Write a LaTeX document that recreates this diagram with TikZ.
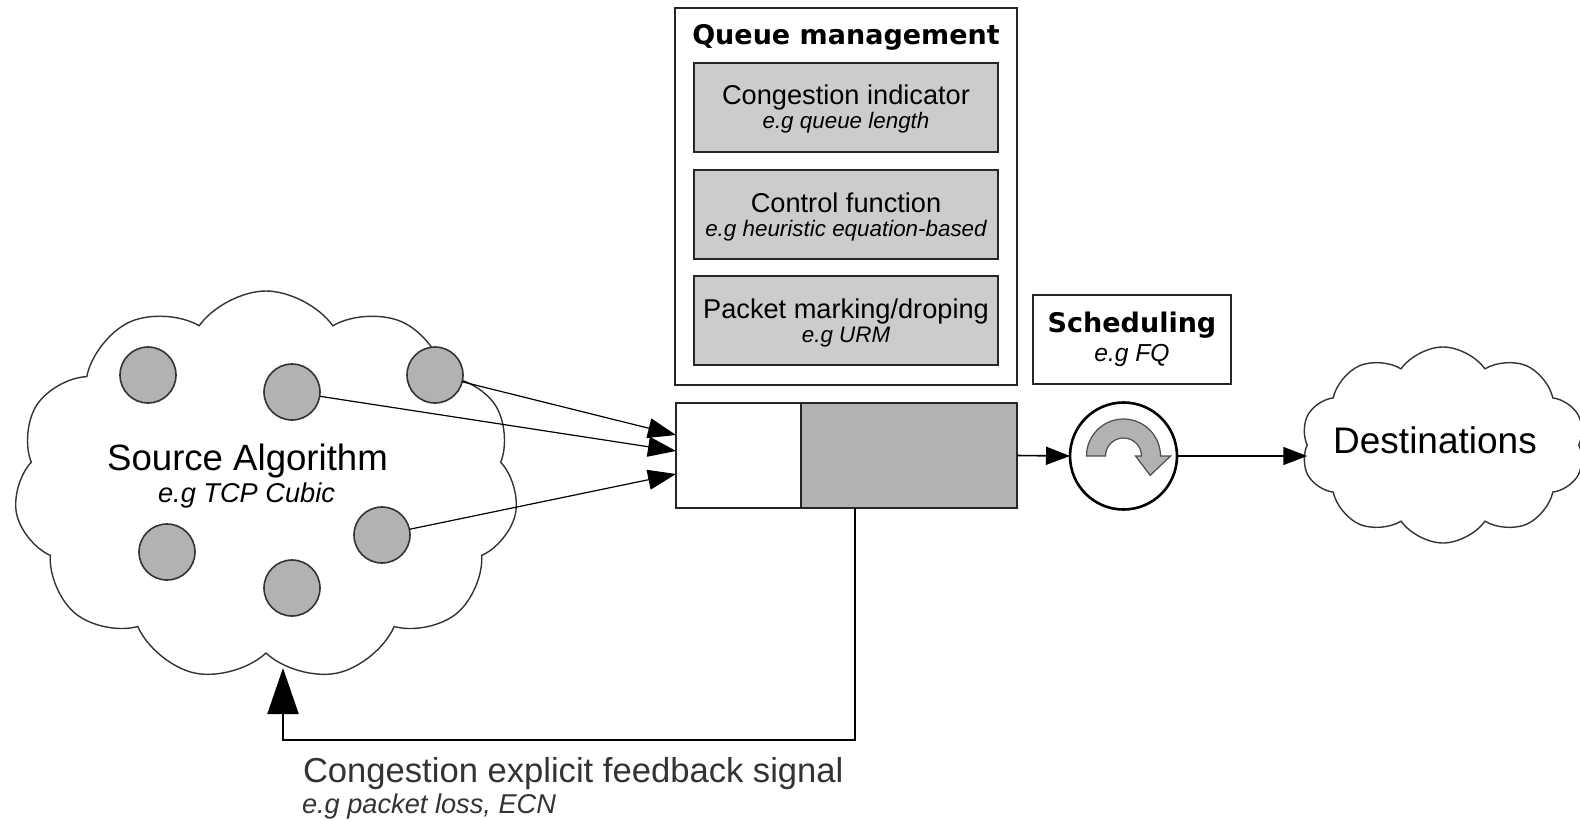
\documentclass[tikz,border=0pt]{standalone}
\usepackage{fontspec}
\setmainfont{Liberation Sans}
\newfontfamily\titlefont{DejaVu Sans}
\usetikzlibrary{shapes.symbols,arrows.meta,calc}

% two-line text of the boxes in the queue management frame
\newcommand{\parttext}[2]{{\fontsize{13.6}{12.8}\selectfont #1}\\{\fontsize{11.2}{12.8}\selectfont\itshape #2}}

\begin{document}
\begin{tikzpicture}[x=0.5pt,y=-0.5pt]
    \tikzstyle{every node}+=[inner sep=0pt, outer sep=0pt]
    \tikzstyle{puff}=[cloud, cloud puffs=11, cloud puff arc=110, cloud ignores aspect, draw=black!80, line width=0.7pt]
    \tikzstyle{host}=[circle, draw=black!80, line width=0.8pt, fill=gray!60, minimum size=28pt]
    \tikzstyle{part}=[rectangle, draw=black!85, line width=1pt, fill=gray!40, minimum width=152pt, minimum height=44.5pt, align=center, text depth=0pt]
    \tikzstyle{frame}=[rectangle, draw=black!85, line width=1.4pt]
    \tikzstyle{flow}=[draw=black, line width=0.8pt, -{Triangle[length=12pt,width=9pt]}]
    \useasboundingbox (0,0) rectangle (1580,820);

    % sources
    \node [puff, minimum width=252pt, minimum height=195pt] (src) at (266,486) {};
    \node [host] (h1) at (148,375) {};
    \node [host] (h2) at (292,392) {};
    \node [host] (h3) at (435,375) {};
    \node [host] (h4) at (167,552) {};
    \node [host] (h5) at (382,535) {};
    \node [host] (h6) at (292,588) {};
    \node [anchor=base, font=\fontsize{18.3}{20}\selectfont] (srcname) at (247.5,470) {Source Algorithm};
    \node [anchor=base, font=\fontsize{13.6}{15}\selectfont\itshape] (srcnote) at (246.5,502) {e.g TCP Cubic};

    % queue management
    \node [frame, minimum width=171pt, minimum height=188.5pt] (qm) at (846,196.5) {};
    \node [font=\fontsize{13.5}{15}\titlefont\bfseries] (qmtitle) at (846,37) {Queue management};
    \node [part] (indicator) at (846,107) {\parttext{Congestion indicator}{e.g queue length}};
    \node [part] (control) at (846,214.5) {\parttext{Control function}{e.g heuristic equation-based}};
    \node [part] (marking) at (846,320.5) {\parttext{Packet marking/droping}{e.g URM}};

    % the queue itself
    \node [frame, fill=white, minimum width=62.5pt, minimum height=52.5pt] (qfree) at (738.5,455.5) {};
    \node [frame, fill=gray!60, minimum width=108pt, minimum height=52.5pt, anchor=west] (qused) at (qfree.east) {};

    % scheduler
    \node [frame, minimum width=99pt, minimum height=44.5pt, align=center] (schedbox) at (1132,339.5)
        {{\fontsize{13.5}{14}\titlefont\bfseries Scheduling}\\[2.5pt]{\fontsize{12.3}{14}\selectfont\itshape e.g FQ}};
    \node [circle, draw=black, line width=1.3pt, minimum size=53.5pt] (sched) at (1123.5,456) {};
    \filldraw [fill=gray!60, draw=black!70, line width=0.6pt]
        ($(sched)+(180:37)$) arc [start angle=180, end angle=360, radius=37]
        -- ($(sched)+(0:47)$) -- ($(sched)+(36:33)$) -- ($(sched)+(0:12)$)
        -- ($(sched)+(0:18)$) arc [start angle=360, end angle=180, radius=18] -- cycle;

    % destinations
    \node [puff, cloud puffs=10, minimum width=142pt, minimum height=98pt] (dest) at (1443,445) {};
    \node [anchor=base, font=\fontsize{18.5}{20}\selectfont] (destname) at (1435,453) {Destinations};

    % packets into the queue
    \coordinate (in1) at ($(qfree.west)+(0,-20.5)$);
    \coordinate (in2) at ($(qfree.west)+(0,-4.5)$);
    \coordinate (in3) at ($(qfree.west)+(0,18.5)$);
    \draw [flow, line width=0.6pt, -{Triangle[length=14pt,width=10pt]}] (h3) -- (in1);
    \draw [flow, line width=0.6pt, -{Triangle[length=14pt,width=10pt]}] (h2) -- (in2);
    \draw [flow, line width=0.6pt, -{Triangle[length=14pt,width=10pt]}] (h5) -- (in3);

    \draw [flow] (qused.east) -- (sched.west);
    \draw [flow] (sched.east) -- (sched.east -| dest.west);

    % feedback to the sources
    \coordinate (fbstart) at ($(qused.south west)+(54,0)$);
    \coordinate (fbend) at (283,668);
    \draw [draw=black, line width=1pt, -{Triangle[length=23pt,width=15.5pt]}]
        (fbstart) |- ($(fbend)+(0,72)$) -- (fbend);
    \node [anchor=base west, text=black!80, font=\fontsize{17.3}{19}\selectfont] (fbtitle) at (303,782) {Congestion explicit feedback signal};
    \node [anchor=base west, text=black!80, font=\fontsize{13.6}{15}\selectfont\itshape] (fbnote) at (302,813) {e.g packet loss, ECN};
\end{tikzpicture}
\end{document}
